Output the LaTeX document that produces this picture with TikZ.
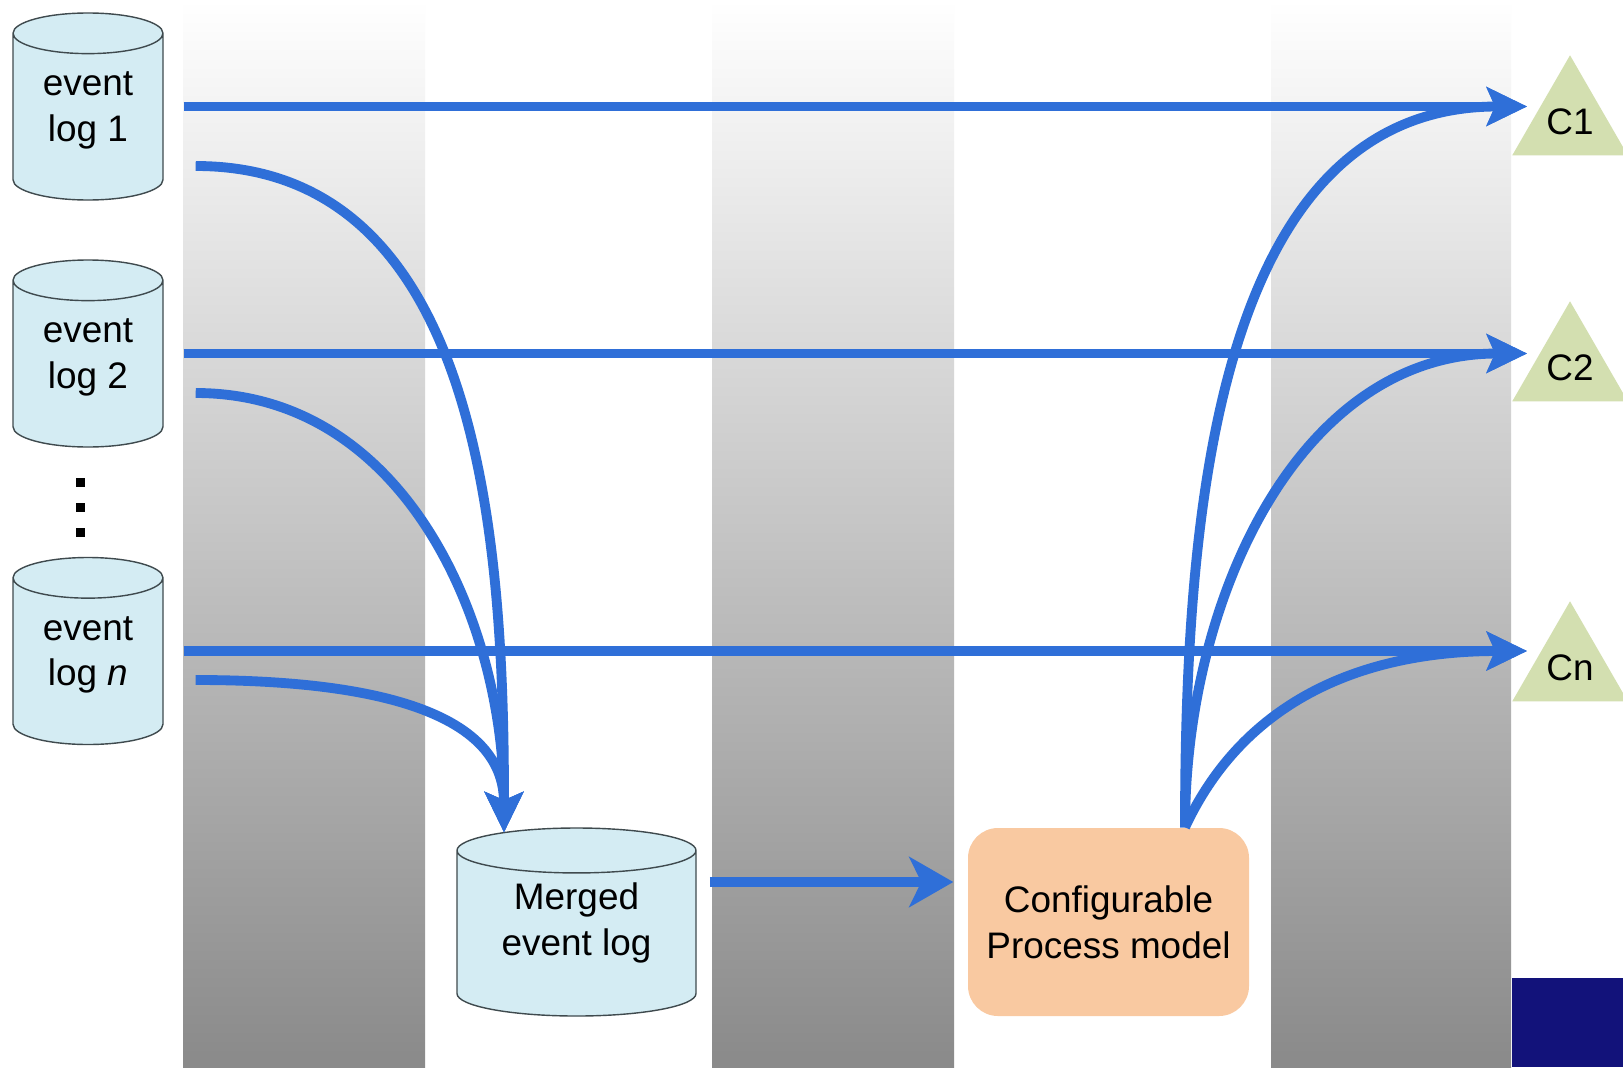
\documentclass[tikz,border=0pt]{standalone}
\usepackage{fontspec}
\setmainfont{Liberation Sans}
\usepackage{xcolor}
\definecolor{flowBlue}{HTML}{2F6FD8}
\definecolor{cylFill}{HTML}{D4ECF3}
\definecolor{cylEdge}{HTML}{3F4A4E}
\definecolor{peachBg}{HTML}{F9C9A1}
\definecolor{triGreen}{HTML}{D3DFB0}
\definecolor{navyBlock}{HTML}{12127A}
\usepackage{tikz}
\usetikzlibrary{shapes,arrows.meta,positioning,calc}
% two centred lines, lifted inside the cylinder body
\newcommand{\liftLines}[3]{\raisebox{0pt}[\height][\dimexpr\depth+#1\relax]{\begin{tabular}{@{}c@{}}#2\\#3\end{tabular}}}
\tikzset{%
  eventLog/.style={%
    cylinder,
    shape border rotate=90,
    draw=cylEdge,
    fill=cylFill,
    shape aspect=0.45,
    minimum width=1.5cm,
    minimum height=1.87cm,
    inner sep=0pt,
    anchor=shape center,
    font=\fontsize{10.5}{13}\selectfont
  },
  modelBox/.style={%
    rectangle,
    rounded corners=3mm,
    fill=peachBg,
    minimum width=2.81cm,
    minimum height=1.88cm,
    align=center,
    font=\fontsize{10.5}{13}\selectfont
  },
  configTri/.style={%
    regular polygon,
    regular polygon sides=3,
    fill=triGreen,
    minimum size=1.2cm,
    inner sep=0pt,
    font=\fontsize{10.5}{13}\selectfont
  },
  dotMark/.style={%
    rectangle,
    fill=black,
    minimum size=0.9mm,
    inner sep=0pt
  },
  flowArrow/.style={%
    -{Stealth[length=4mm,width=3.8mm,inset=0.8mm]},
    line width=2.8pt,
    color=flowBlue
  },
  mergeArrow/.style={%
    -{Stealth[length=4.4mm,width=5mm,inset=1.2mm]},
    line width=3pt,
    color=flowBlue
  }
}

\begin{document}
\begin{tikzpicture}
  \useasboundingbox (0,0) rectangle (16.23,10.67);
  \fill[white] (0,0) rectangle (16.23,10.67);

  % shaded columns
  \foreach \xa/\xb in {1.83/4.25, 7.12/9.54, 12.71/15.11}
    \shade[top color=white, middle color=black!23, bottom color=black!46] (\xa,0) rectangle (\xb,10.67);
  \fill[navyBlock] (15.12,0) rectangle (16.23,0.89);

  % logs
  \node[eventLog] (ev1) at (0.88,9.605) {\liftLines{4.3pt}{event}{log 1}};
  \node[eventLog] (ev2) at (0.88,7.135) {\liftLines{4.3pt}{event}{log 2}};
  \node[eventLog] (evn) at (0.88,4.16) {\liftLines{4.3pt}{event}{log \textit{n}}};
  \foreach \k/\yy in {1/5.85, 2/5.60, 3/5.35}
    \node[dotMark] (dot\k) at (0.80,\yy) {};

  \node[eventLog, shape aspect=0.3, minimum width=2.39cm, minimum height=1.88cm] (merged) at (5.765,1.45) {\liftLines{6pt}{Merged}{event log}};
  \node[modelBox] (config) at (11.085,1.45) {Configurable\\Process model};

  \node[configTri] (c1) at (15.70,9.45) {C1};
  \node[configTri] (c2) at (15.70,6.99) {C2};
  \node[configTri] (cn) at (15.70,3.99) {Cn};

  % side points of the logs
  \coordinate (ev1r) at (ev1.east |- ev1.shape center);
  \coordinate (ev2r) at (ev2.east |- ev2.shape center);
  \coordinate (evnr) at (evn.east |- evn.shape center);

  \coordinate (tip1) at ($(c1.center |- ev1r)+(-0.43,0)$);
  \coordinate (tip2) at ($(c2.center |- ev2r)+(-0.43,0)$);
  \coordinate (tipn) at ($(cn.center |- evnr)+(-0.43,0)$);
  \coordinate (mergeIn) at ($(merged.north)+(-0.725,-0.05)$);
  \coordinate (modelOut) at ($(config.north)+(0.765,0)$);
  \coordinate (mStart) at ($(merged.east |- merged.shape center)+(0.13,0.4)$);

  % straight flows
  \draw[flowArrow] ([xshift=2mm]ev1r) -- (tip1);
  \draw[flowArrow] ([xshift=2mm]ev2r) -- (tip2);
  \draw[flowArrow] ([xshift=2mm]evnr) -- (tipn);

  % merging
  \draw[flowArrow] ($(ev1r)+(0.32,-0.595)$) to[out=0,in=90] (mergeIn);
  \draw[flowArrow] ($(ev2r)+(0.32,-0.395)$) to[out=0,in=90] (mergeIn);
  \draw[flowArrow] ($(evnr)+(0.32,-0.29)$) to[out=0,in=90] (mergeIn);

  \draw[mergeArrow, shorten >=1.4mm] (mStart) -- (mStart -| config.west);

  % individualising
  \draw[flowArrow] (modelOut) to[out=90,in=180] (tip1);
  \draw[flowArrow] (modelOut) to[out=90,in=180] (tip2);
  \draw[flowArrow] (modelOut) to[out=65,in=180] (tipn);
\end{tikzpicture}
\end{document}
